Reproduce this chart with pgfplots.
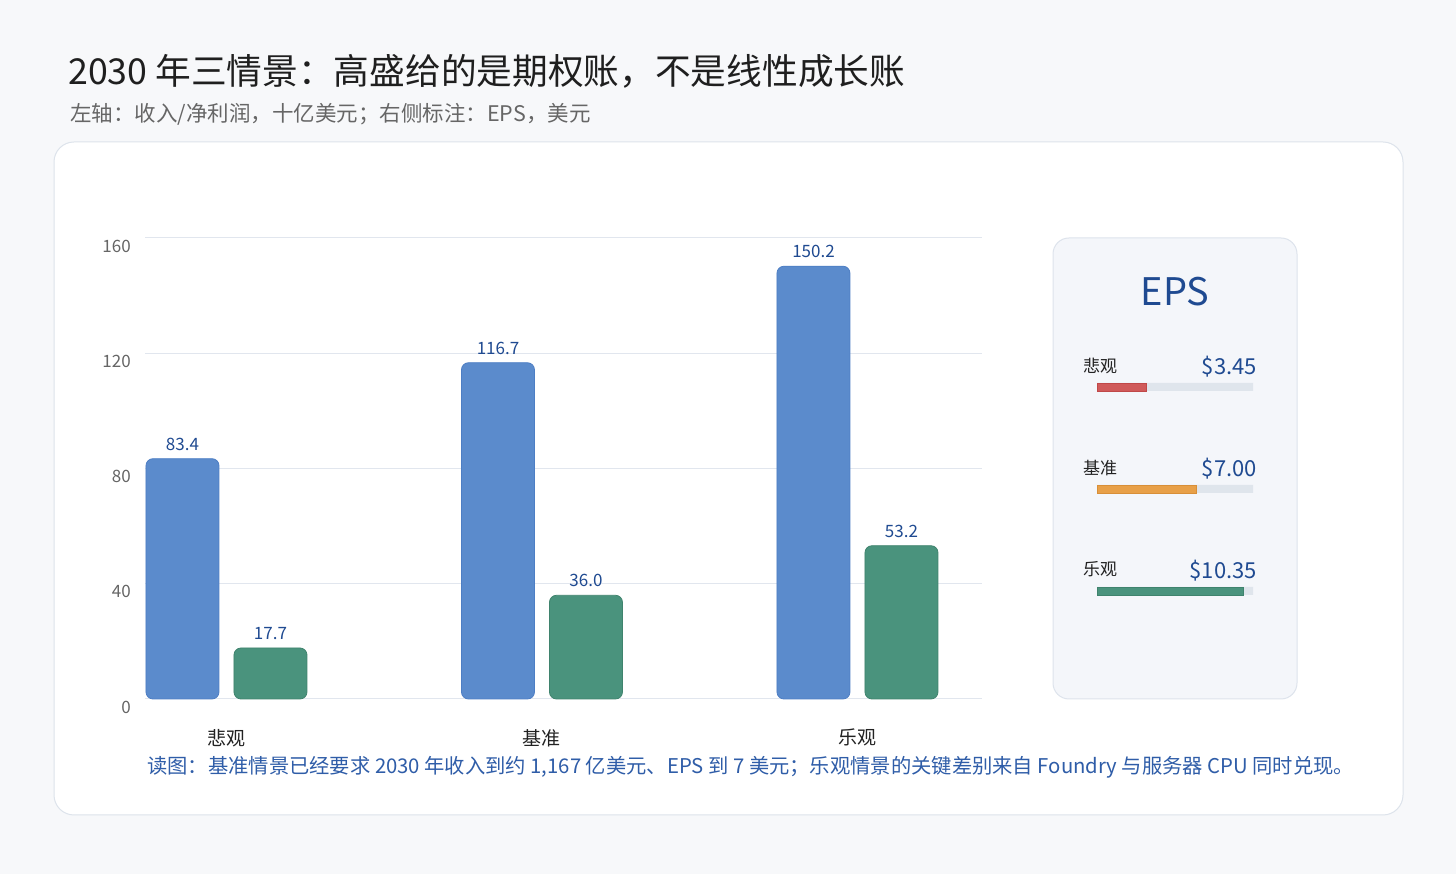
\documentclass[border=0pt]{standalone}
\usepackage{pgfplots}
\pgfplotsset{compat=1.18}
\usepackage{fontspec}
\setmainfont{Noto Sans CJK SC}
\definecolor{bgc}{HTML}{F7F8FA}
\definecolor{cardb}{HTML}{DDE3EB}
\definecolor{gridc}{HTML}{E1E6EE}
\definecolor{bluef}{HTML}{5B8BCC}
\definecolor{blued}{HTML}{4D7EC4}
\definecolor{greenf}{HTML}{4A937D}
\definecolor{greend}{HTML}{3F836D}
\definecolor{vlab}{HTML}{1F4A91}
\definecolor{tickc}{HTML}{666666}
\definecolor{catc}{HTML}{222222}
\definecolor{footc}{HTML}{2F5DA8}
\definecolor{panelf}{HTML}{F4F6FA}
\definecolor{panelb}{HTML}{DDE3EC}
\definecolor{trackc}{HTML}{DFE5EC}
\definecolor{redf}{HTML}{D05A5A}
\definecolor{redd}{HTML}{C04848}
\definecolor{orf}{HTML}{E8A048}
\definecolor{ord}{HTML}{D88F38}
\begin{document}
\begin{tikzpicture}[x=1pt,y=1pt]
% background
\fill[bgc] (0pt,0pt) rectangle (1456pt,874pt);
% title & subtitle
\node[anchor=west, inner sep=0pt, text=black!88] at (68pt,803pt) {\fontsize{35.7}{40}\selectfont 2030 年三情景：高盛给的是期权账，不是线性成长账};
\node[anchor=west, inner sep=0pt, text=black!60] at (70pt,760pt) {\fontsize{21.5}{24}\selectfont 左轴：收入/净利润，十亿美元；右侧标注：EPS，美元};
% card
\draw[fill=white, draw=cardb, line width=1pt, rounded corners=20pt] (54pt,59pt) rectangle (1403pt,732pt);
% main axis
\begin{axis}[
  at={(145pt,175pt)}, anchor=south west,
  scale only axis, width=837pt, height=461pt,
  xmin=-0.2583, xmax=2.3947, ymin=0, ymax=160,
  ytick={0,40,80,120,160},
  xtick={0,1,2}, xticklabels={悲观,基准,乐观},
  axis line style={draw=none},
  major tick length=0pt,
  ymajorgrids, grid style={draw=gridc, line width=1pt},
  /pgf/number format/assume math mode=true,
  yticklabel style={anchor=east, inner sep=0pt, xshift=-14pt, yshift=-8pt, text=tickc, font=\fontsize{17}{20}\selectfont},
  xticklabel style={anchor=north, inner sep=0pt, yshift=-30pt, text=catc, font=\fontsize{19}{22}\selectfont},
  ybar, bar width=73pt,
  nodes near coords={\pgfmathprintnumber[fixed,fixed zerofill,precision=1]{\pgfplotspointmeta}},
  every node near coord/.append style={anchor=south, inner sep=0pt, yshift=8pt, text=vlab, font=\fontsize{17}{20}\selectfont},
  clip=false,
]
\addplot[fill=bluef, draw=blued, line width=0.8pt, rounded corners=7pt, bar shift=-44pt] coordinates {(0,83.4) (1,116.7) (2,150.2)};
\addplot[fill=greenf, draw=greend, line width=0.8pt, rounded corners=7pt, bar shift=44pt] coordinates {(0,17.7) (1,36.0) (2,53.2)};
\end{axis}
% EPS panel
\draw[fill=panelf, draw=panelb, line width=1pt, rounded corners=16pt] (1053pt,175pt) rectangle (1297pt,636pt);
\node[text=vlab, inner sep=0pt] at (1175pt,582pt) {\fontsize{38}{42}\selectfont EPS};
\begin{axis}[
  at={(1097pt,232pt)}, anchor=south west,
  scale only axis, width=156pt, height=306pt,
  xmin=0, xmax=11, ymin=-0.5, ymax=2.5, y dir=reverse,
  hide axis,
  xbar, bar width=8pt,
]
\addplot[fill=trackc, draw=none, bar shift=0pt] coordinates {(11,0) (11,1) (11,2)};
\addplot[fill=redf, draw=redd, line width=0.6pt, bar shift=0pt] coordinates {(3.45,0)};
\addplot[fill=orf, draw=ord, line width=0.6pt, bar shift=0pt] coordinates {(7.00,1)};
\addplot[fill=greenf, draw=greend, line width=0.6pt, bar shift=0pt] coordinates {(10.35,2)};
\end{axis}
\node[anchor=west, inner sep=0pt, text=catc] at (1083pt,508pt) {\fontsize{17}{20}\selectfont 悲观};
\node[anchor=east, inner sep=0pt, text=vlab] at (1257pt,507pt) {\fontsize{22}{26}\selectfont \$3.45};
\node[anchor=west, inner sep=0pt, text=catc] at (1083pt,406pt) {\fontsize{17}{20}\selectfont 基准};
\node[anchor=east, inner sep=0pt, text=vlab] at (1257pt,405pt) {\fontsize{22}{26}\selectfont \$7.00};
\node[anchor=west, inner sep=0pt, text=catc] at (1083pt,305pt) {\fontsize{17}{20}\selectfont 乐观};
\node[anchor=east, inner sep=0pt, text=vlab] at (1257pt,303pt) {\fontsize{22}{26}\selectfont \$10.35};
% footer
\node[anchor=west, inner sep=0pt, text=footc] at (147pt,107pt) {\fontsize{20.3}{24}\selectfont 读图：基准情景已经要求 2030 年收入到约 1,167 亿美元、EPS 到 7 美元；乐观情景的关键差别来自 Foundry 与服务器 CPU 同时兑现。};
\end{tikzpicture}
\end{document}
